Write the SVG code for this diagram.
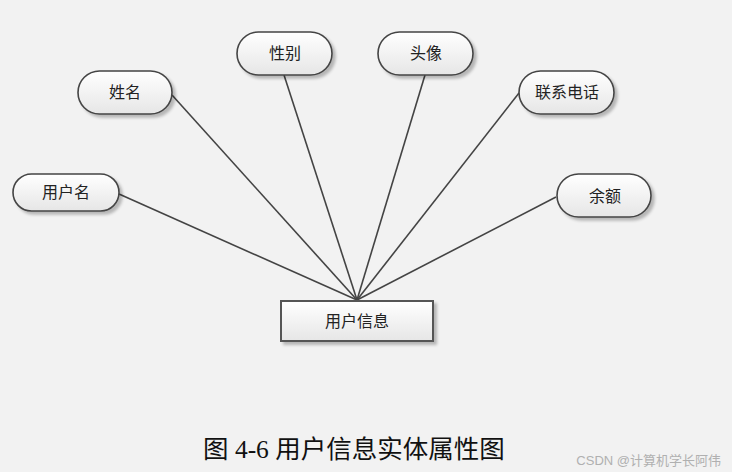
<svg xmlns="http://www.w3.org/2000/svg" width="732" height="472" viewBox="0 0 732 472">
<defs>
<linearGradient id="g" x1="0" y1="0" x2="0" y2="1">
<stop offset="0" stop-color="#ffffff"/>
<stop offset="1" stop-color="#e6e6e6"/>
</linearGradient>
<filter id="sh" x="-20%" y="-20%" width="140%" height="160%">
<feGaussianBlur in="SourceAlpha" stdDeviation="1.5"/>
<feOffset dx="3" dy="3" result="o"/>
<feComponentTransfer><feFuncA type="linear" slope="0.25"/></feComponentTransfer>
<feMerge><feMergeNode/><feMergeNode in="SourceGraphic"/></feMerge>
</filter>
</defs>
<style>
.pill{fill:url(#g);stroke:#444;stroke-width:1.6;filter:url(#sh)}
.ent{fill:url(#g);stroke:#555;stroke-width:2;filter:url(#sh)}
.t{font-family:"Liberation Serif","Noto Sans CJK SC",serif;font-size:16px;fill:#222;text-anchor:middle;dominant-baseline:central}
.c line{stroke:#444;stroke-width:1.6}
</style>
<rect width="732" height="472" fill="#f2f2f2"/>
<g class="c" id="connectors">
<line x1="119" y1="194" x2="357" y2="300"/>
<line x1="172" y1="95" x2="357" y2="300"/>
<line x1="284" y1="75" x2="357" y2="300"/>
<line x1="425" y1="75" x2="357" y2="300"/>
<line x1="519" y1="93" x2="357" y2="300"/>
<line x1="556" y1="197" x2="357" y2="300"/>
</g>
<g id="n-yonghuming"><rect class="pill" x="13" y="174" width="106" height="37" rx="18.5"/><text class="t" x="66" y="192.5">用户名</text></g>
<g id="n-xingming"><rect class="pill" x="78" y="71" width="94" height="43" rx="21.5"/><text class="t" x="125" y="92.5">姓名</text></g>
<g id="n-xingbie"><rect class="pill" x="237" y="32" width="95" height="43" rx="21.5"/><text class="t" x="285" y="53.5">性别</text></g>
<g id="n-touxiang"><rect class="pill" x="378" y="32" width="95" height="43" rx="21.5"/><text class="t" x="426" y="53.5">头像</text></g>
<g id="n-dianhua"><rect class="pill" x="519" y="71" width="95" height="43" rx="21.5"/><text class="t" x="567" y="92.5">联系电话</text></g>
<g id="n-yue"><rect class="pill" x="557" y="174" width="94" height="43" rx="21.5"/><text class="t" x="605" y="196">余额</text></g>
<g id="n-yonghuxinxi"><rect class="ent" x="281" y="301" width="152" height="40"/><text class="t" x="357" y="321">用户信息</text></g>
<text x="203" y="458" font-family="Liberation Serif, Noto Sans CJK SC, serif" font-size="25.5" fill="#111">图 4-6 用户信息实体属性图</text>
<text x="721" y="465" text-anchor="end" font-family="Liberation Sans, Noto Sans CJK SC, sans-serif" font-size="13" fill="#b0b0b0">CSDN @计算机学长阿伟</text>
</svg>
